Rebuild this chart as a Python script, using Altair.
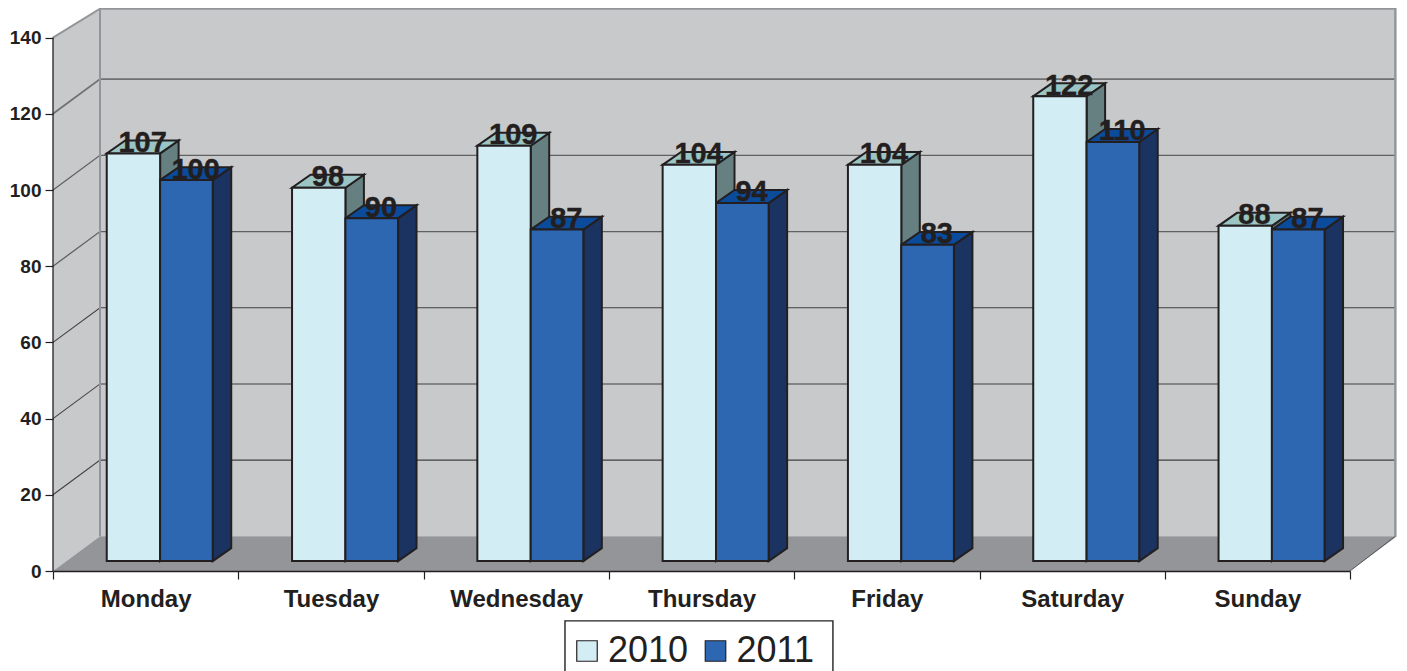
import altair as alt
import pandas as pd

days = ["Monday", "Tuesday", "Wednesday", "Thursday", "Friday", "Saturday", "Sunday"]
v2010 = [107, 98, 109, 104, 104, 122, 88]
v2011 = [100, 90, 87, 94, 83, 110, 87]
years = ["2010", "2011"]
y_ticks = [0, 20, 40, 60, 80, 100, 120, 140]

INK = "#231f20"
W, H = 1344, 563
XMAX = W / 185.3
YMAX = H / 3.81
# oblique projection of the wall/floor and of each bar's depth, in data units
WALL_DX, WALL_DY = 47 / 185.3, 9.1
BAR_DX, BAR_DY = 18.5 / 185.3, 3.4
BAR_BASE = 2.6
BAR_START, BAR_MID, BAR_END = 0.29, 0.578, 0.862

xs = alt.Scale(domain=[0, XMAX], nice=False, zero=False)
ys = alt.Scale(domain=[0, YMAX], nice=False, zero=False)
y_axis = alt.Axis(
    values=y_ticks, domain=False, tickSize=8, tickColor=INK, tickWidth=1.2, grid=False,
    labelFont="Liberation Sans", labelFontWeight="bold", labelFontSize=19, labelColor=INK,
    labelPadding=4, zindex=1,
)
X = alt.X("x:Q", scale=xs, axis=None)
Y = alt.Y("y:Q", scale=ys, axis=y_axis, title=None)
Y2 = alt.Y2("y2:Q")


def area(rows, fill, stroke=None, width=2):
    kw = {"fill": fill, "line": False, "opacity": 1}
    if stroke:
        kw.update(stroke=stroke, strokeWidth=width, strokeJoin="miter")
    return alt.Chart(pd.DataFrame(rows)).mark_area(**kw).encode(
        x=X, y=Y, y2=Y2, detail="id:N"
    )


def line(rows, color, width):
    return alt.Chart(pd.DataFrame(rows)).mark_line(
        color=color, strokeWidth=width, clip=False
    ).encode(x=X, y=Y, detail="id:N", order="o:Q")


def side_rows(left, right, values):
    rows = []
    for i, v in enumerate(values):
        x1 = i + right
        b, t = BAR_BASE, v + BAR_BASE
        rows += [
            dict(id=i, x=x1, y=b, y2=t),
            dict(id=i, x=x1 + BAR_DX, y=b + BAR_DY, y2=t + BAR_DY),
        ]
    return rows


def top_rows(left, right, values):
    rows = []
    for i, v in enumerate(values):
        x0, x1 = i + left, i + right
        t = v + BAR_BASE
        rows += [
            dict(id=i, x=x0, y=t, y2=t),
            dict(id=i, x=x0 + BAR_DX, y=t, y2=t + BAR_DY),
            dict(id=i, x=x1, y=t, y2=t + BAR_DY),
            dict(id=i, x=x1 + BAR_DX, y=t + BAR_DY, y2=t + BAR_DY),
        ]
    return rows


# Axes: category band scale spans the front edge of the floor
axis_layer = alt.Chart(pd.DataFrame({"day": days, "zero": [0] * 7})).mark_point(opacity=0).encode(
    x=alt.X(
        "day:N",
        sort=days,
        title=None,
        scale=alt.Scale(type="band", domain=days, range=[0, 185.3 * 7], paddingInner=0, paddingOuter=0),
        axis=alt.Axis(
            tickBand="extent", labelAngle=0, labelFont="Liberation Sans", labelFontWeight="bold",
            labelFontSize=24, labelColor=INK, labelPadding=8, tickSize=8, tickColor=INK, tickWidth=1.2,
            domainColor=INK, domainWidth=1.5, grid=False, zindex=1, labelOverlap=False,
        ),
    ),
    y=alt.Y("zero:Q", scale=ys, title=None, axis=y_axis),
)

left_wall = area(
    [dict(id=0, x=0, y=0, y2=140), dict(id=0, x=WALL_DX, y=WALL_DY, y2=YMAX - 0.2)], "#c8c9cb"
)
back_wall = area(
    [dict(id=0, x=WALL_DX, y=WALL_DY, y2=YMAX), dict(id=0, x=XMAX, y=WALL_DY, y2=YMAX)], "#c8c9cb"
)
floor = area(
    [
        dict(id=0, x=0, y=0, y2=0),
        dict(id=0, x=WALL_DX, y=0, y2=WALL_DY),
        dict(id=0, x=XMAX - WALL_DX, y=0, y2=WALL_DY),
        dict(id=0, x=XMAX, y=WALL_DY, y2=WALL_DY),
    ],
    "#939598",
)


def grid_rows(vals):
    rows = []
    for v in vals:
        rows += [
            dict(id=v, o=0, x=0, y=v),
            dict(id=v, o=1, x=WALL_DX, y=v + WALL_DY),
            dict(id=v, o=2, x=XMAX - 0.01, y=v + WALL_DY),
        ]
    return rows


grid_dark = line(grid_rows([20, 40, 60]), "#414042", 1.1)
grid_mid = line(grid_rows([80, 100]), "#5f6062", 1.3)
grid_top = line(grid_rows([120]), "#6f7072", 1.7)

edges = line(
    [
        dict(id=0, o=0, x=WALL_DX, y=WALL_DY),
        dict(id=0, o=1, x=WALL_DX, y=YMAX - 0.2),
        dict(id=0, o=2, x=XMAX - 0.01, y=YMAX - 0.2),
        dict(id=0, o=3, x=XMAX - 0.01, y=WALL_DY),
        dict(id=1, o=0, x=0, y=140),
        dict(id=1, o=1, x=WALL_DX, y=YMAX - 0.2),
    ],
    "#939598",
    2,
)
y_line = line([dict(id=0, o=0, x=0, y=0), dict(id=0, o=1, x=0, y=140)], INK, 1.3)
floor_edge = line(
    [dict(id=0, o=0, x=XMAX - WALL_DX, y=0), dict(id=0, o=1, x=XMAX - 0.01, y=WALL_DY)], "#58595b", 1
)

side10 = area(side_rows(BAR_START, BAR_MID, v2010), "#668081", INK)
top10 = area(top_rows(BAR_START, BAR_MID, v2010), "#9bc4c4", INK)
side11 = area(side_rows(BAR_MID, BAR_END, v2011), "#1a3361", INK)
top11 = area(top_rows(BAR_MID, BAR_END, v2011), "#0b4b9b", INK)

front_rows = []
label_rows = []
for i, d in enumerate(days):
    for yr, vals, a, b in (("2010", v2010, BAR_START, BAR_MID), ("2011", v2011, BAR_MID, BAR_END)):
        v = vals[i]
        front_rows.append(dict(year=yr, x=i + a, x2=i + b, y=BAR_BASE, y2=v + BAR_BASE))
        label_rows.append(dict(x=i + (a + b + BAR_DX) / 2, y=v + BAR_BASE + 0.4, label=str(v)))

fronts = alt.Chart(pd.DataFrame(front_rows)).mark_rect(stroke=INK, strokeWidth=2).encode(
    x=X,
    x2="x2:Q",
    y=Y,
    y2=Y2,
    color=alt.Color(
        "year:N",
        scale=alt.Scale(domain=years, range=["#d3edf4", "#2d67b1"]),
        legend=alt.Legend(
            title=None, orient="none", legendX=508, legendY=617, direction="horizontal", columns=2,
            symbolType="square", symbolSize=420, symbolStrokeColor=INK, symbolStrokeWidth=1.2,
            labelFont="Liberation Sans", labelFontSize=36, labelColor=INK, labelOffset=3,
            columnPadding=8.5, padding=8, labelLimit=200,
        ),
    ),
)

# Outline around the legend (its lower edge runs off the page, as in the reference)
legend_box = alt.Chart(pd.DataFrame([dict(x=2.763, x2=4.209, y=-13.1, y2=-30.0)])).mark_rect(
    fill="transparent", stroke=INK, strokeWidth=1.4, clip=False
).encode(x=X, x2="x2:Q", y=Y, y2=Y2)

labels = alt.Chart(pd.DataFrame(label_rows)).mark_text(
    font="Liberation Sans", fontWeight="bold", fontSize=29, color=INK, baseline="alphabetic", align="center",
    stroke=INK, strokeWidth=0.4,
).encode(x=X, y=Y, text="label:N")

chart = (
    alt.layer(
        axis_layer, left_wall, back_wall, floor, grid_dark, grid_mid, grid_top, edges, floor_edge, y_line,
        side10, top10, side11, top11, fronts, labels, legend_box,
    )
    .resolve_scale(x="independent")
    .properties(
        width=W,
        height=H,
        padding={"left": 45, "top": 0, "right": 0, "bottom": 100},
        autosize=alt.AutoSizeParams(type="none"),
        background="white",
    )
    .configure_view(stroke=None)
)

chart.save("out.html", embed_options={"renderer": "svg", "actions": False})
